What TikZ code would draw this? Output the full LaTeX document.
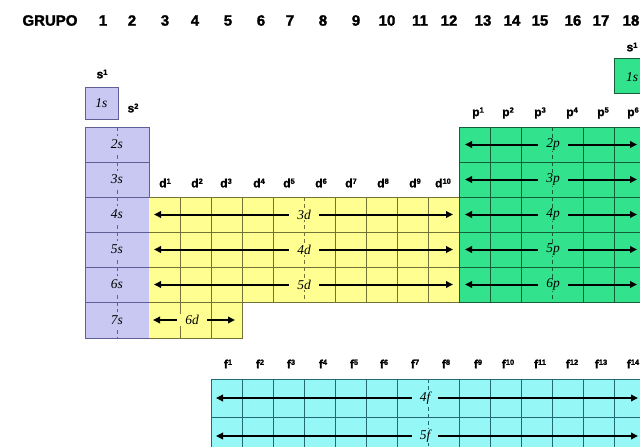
\documentclass[tikz,border=0pt]{standalone}
\usepackage{fontspec}
\setmainfont{Liberation Serif}
\setsansfont{Liberation Sans}[BoldFeatures={FakeBold=1.6}]
\usetikzlibrary{arrows.meta}
\definecolor{sfill}{RGB}{200,200,242}
\definecolor{sline}{RGB}{95,95,150}
\definecolor{dfill}{RGB}{255,255,145}
\definecolor{dline}{RGB}{115,115,55}
\definecolor{pfill}{RGB}{50,226,140}
\definecolor{pline}{RGB}{20,95,55}
\definecolor{ffill}{RGB}{150,247,247}
\definecolor{fline}{RGB}{35,105,115}
\newcommand\supx[1]{\raisebox{0.55ex}{\fontsize{7.5}{7.5}\selectfont #1}}
\tikzset{
  hdr/.style={font=\sffamily\bfseries\fontsize{15}{15}\selectfont, inner sep=0pt},
  sublab/.style={font=\sffamily\bfseries\fontsize{12}{12}\selectfont, inner sep=0pt},
  cell/.style={font=\itshape\fontsize{13.5}{13.5}\selectfont, inner xsep=8pt, inner ysep=1pt},
  arr/.style={line width=2pt, {Triangle[length=7pt,width=6.5pt]}-{Triangle[length=7pt,width=6.5pt]}},
  midline/.style={dash pattern=on 4pt off 3pt, line width=0.6pt},
  gridl/.style={line width=0.7pt}
}
\begin{document}
\begin{tikzpicture}[x=1pt,y=-1pt]
\useasboundingbox (0,0) rectangle (640,447);
\clip (0,0) rectangle (640,447);
% header
\node[hdr] (grupo) at (50,20.5) {GRUPO};
\foreach \g/\x in {1/103,2/132,3/165,4/195,5/228,6/261,7/290,8/323,9/356,10/387,11/420,12/449,13/483,14/512,15/540,16/573,17/601,18/631}
  \node[hdr] (g\g) at (\x,20.5) {\g};
% s block
\node[sublab] (s1lab) at (102,74) {s\supx{1}};
\node[sublab] (s2lab) at (133,108) {s\supx{2}};
\node[draw=sline, fill=sfill, line width=0.8pt, minimum width=33pt, minimum height=32pt, inner sep=0pt,
      font=\itshape\fontsize{13.5}{13.5}\selectfont] (h1s) at (101.5,103) {1s};
\fill[sfill] (85,127) rectangle (149,338);
\foreach \y in {162,197,232,267,302}
  \draw[sline, gridl] (85,\y) -- (149,\y);
\draw[sline, midline] (117,127) -- (117,338);
\draw[sline, line width=0.8pt] (85,127) rectangle (149,338);
\foreach \n/\y in {2/144.5,3/179.5,4/214.5,5/249.5,6/284.5,7/320}
  \node[cell, fill=sfill, inner xsep=2pt, inner ysep=4pt] (s\n) at (117,\y) {\n s};
% d block
\fill[dfill] (149,197) rectangle (459,302);
\fill[dfill] (149,302) rectangle (242,338);
\foreach \x in {180,211,242,273,335,366,397,428}
  \draw[dline, gridl] (\x,197) -- (\x,302);
\foreach \x in {180,211}
  \draw[dline, gridl] (\x,302) -- (\x,338);
\foreach \y in {232,267,302}
  \draw[dline, gridl] (149,\y) -- (459,\y);
\draw[dline, gridl] (149,197) -- (459,197) -- (459,302) -- (242,302) -- (242,338) -- (149,338);
\draw[dline, midline] (304,197) -- (304,302);
\foreach \n/\x in {1/165,2/197,3/226,4/259,5/289,6/321,7/351,8/383,9/415,10/443}
  \node[sublab] (dl\n) at (\x,183) {d\supx{\n}};
\foreach \n/\y in {3/214.5,4/249.5,5/284.5}{
  \coordinate (d\n L) at (154,\y);
  \coordinate (d\n R) at (453,\y);
  \draw[arr] (d\n L) -- (d\n R);
  \node[cell, fill=dfill] (d\n) at (304,\y) {\n d};
}
\coordinate (d6L) at (153,320);
\coordinate (d6R) at (235,320);
\draw[arr] (d6L) -- (d6R);
\node[cell, fill=dfill] (d6) at (192,320) {6d};
% p block
\fill[pfill] (459,127) rectangle (650,302);
\foreach \x in {490,521,583,614}
  \draw[pline, gridl] (\x,127) -- (\x,302);
\foreach \y in {162,197,232,267}
  \draw[pline, gridl] (459,\y) -- (650,\y);
\draw[pline, gridl] (459,127) rectangle (650,302);
\draw[pline, midline] (552,127) -- (552,302);
\foreach \n/\x in {1/478,2/508,3/540,4/572,5/603,6/633}
  \node[sublab] (pl\n) at (\x,113) {p\supx{\n}};
\foreach \n/\y in {2/144.5,3/179.5,4/214.5,5/249.5,6/284.5}{
  \coordinate (p\n L) at (465,\y);
  \coordinate (p\n R) at (637,\y);
  \draw[arr] (p\n L) -- (p\n R);
  \node[cell, fill=pfill] (p\n) at (553,\y) {\n p};
}
% He
\node[sublab] (hes) at (632,47) {s\supx{1}};
\node[draw=pline, fill=pfill, line width=0.8pt, minimum width=36pt, minimum height=35pt, inner sep=0pt] (he) at (632,75.5) {};
\node[font=\itshape\fontsize{13.5}{13.5}\selectfont, inner sep=0pt, anchor=west] (hel) at (626,77) {1s};
% f block
\fill[ffill] (211,379) rectangle (650,460);
\foreach \x in {242,273,304,335,366,397,459,490,521,552,583,614}
  \draw[fline, gridl] (\x,379) -- (\x,460);
\draw[fline, gridl] (211,417) -- (650,417);
\draw[fline, gridl] (211,460) -- (211,379) -- (650,379);
\draw[fline, midline] (428,379) -- (428,460);
\foreach \n/\x in {1/228,2/260,3/291,4/323,5/354,6/384,7/415,8/446,9/478,10/508,11/540,12/572,13/601,14/633}
  \node[sublab] (fl\n) at (\x,364) {f\supx{\n}};
\foreach \n/\y in {4/398,5/436}{
  \coordinate (f\n L) at (216,\y);
  \coordinate (f\n R) at (638,\y);
  \draw[arr] (f\n L) -- (f\n R);
  \node[cell, fill=ffill] (f\n) at (425,\y) {\n f};
}
\end{tikzpicture}
\end{document}
